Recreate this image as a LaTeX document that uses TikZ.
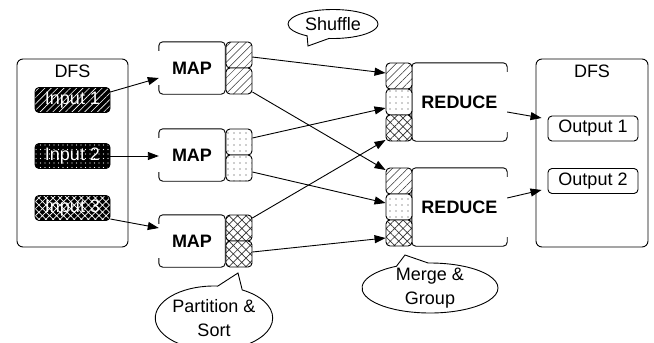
\documentclass[tikz,border=0pt]{standalone}
\usepackage{fontspec}
\setmainfont{Liberation Sans}
\usetikzlibrary{arrows.meta,patterns.meta,shapes.callouts}
\newcommand\mapoutline[1]{\draw[boxline] ([yshift=-9pt]#1.north west) -- (#1.north west) -- (#1.north east) -- (#1.south east) -- (#1.south west) -- ([yshift=9pt]#1.south west);}
\newcommand\redoutline[1]{\draw[boxline] ([yshift=-9pt]#1.north east) -- (#1.north east) -- (#1.north west) -- (#1.south west) -- (#1.south east) -- ([yshift=9pt]#1.south east);}
\begin{document}
\begin{tikzpicture}[x=1pt,y=-1pt,
  every node/.style={font=\fontsize{18}{24}\selectfont},
  lw/.style={line width=0.9pt},
  boxline/.style={lw, rounded corners=4pt},
  dfsbox/.style={draw, lw, rounded corners=6pt, minimum height=188pt, inner sep=0pt},
  inbox/.style={draw, lw, rounded corners=4pt, minimum width=75pt, minimum height=25pt, inner sep=0pt, text=white, preaction={fill=black}, pattern color=white},
  outbox/.style={draw, lw, rounded corners=4pt, minimum width=90pt, minimum height=25pt, inner sep=0pt, fill=white},
  mapbox/.style={minimum width=66pt, minimum height=52pt, inner sep=0pt, font=\fontsize{18}{24}\selectfont\bfseries},
  redbox/.style={minimum width=95pt, minimum height=78pt, inner sep=0pt, font=\fontsize{18}{24}\selectfont\bfseries},
  part/.style={draw, lw, rounded corners=4pt, minimum width=26pt, minimum height=26pt, inner sep=0pt, preaction={fill=white}, pattern color=black!80},
  partA/.style={part, pattern={Lines[angle=45,distance=5.5pt,line width=0.5pt]}},
  partB/.style={part, pattern={Dots[distance=6pt,radius=0.6pt]}},
  partC/.style={part, pattern={Hatch[angle=45,distance=6pt,line width=0.7pt]}},
  arr/.style={lw, -{Triangle[length=11pt,width=8pt]}},
  callout/.style={ellipse callout, draw, lw, fill=white, inner sep=0pt, align=center}
]
\fill[white] (0,0) rectangle (654,343);
\useasboundingbox (0,0) rectangle (654,343);

% DFS boxes
\node[dfsbox, minimum width=111pt] (dfsL) at (72.5,153) {};
\node (dfsLt) at (72.5,71) {DFS};
\node[dfsbox, minimum width=112pt] (dfsR) at (592,153) {};
\node (dfsRt) at (592,71) {DFS};

% inputs
\node[inbox, pattern={Lines[angle=45,distance=4.5pt,line width=0.6pt]}] (in1) at (72.5,100) {Input 1};
\node[inbox, pattern={Dots[distance=4.5pt,radius=0.7pt]}] (in2) at (72.5,156) {Input 2};
\node[inbox, pattern={Hatch[angle=45,distance=5pt,line width=0.7pt]}] (in3) at (72.5,208) {Input 3};

% outputs
\node[outbox] (o1) at (593,128.5) {Output 1};
\node[outbox] (o2) at (593,181) {Output 2};

% maps
\node[mapbox] (m1) at (192,68) {MAP};
\node[mapbox] (m2) at (192,155) {MAP};
\node[mapbox] (m3) at (192,241) {MAP};
\mapoutline{m1}
\mapoutline{m2}
\mapoutline{m3}
\node[partA] (m1a) at (239,55) {};
\node[partA] (m1b) at (239,81) {};
\node[partB] (m2a) at (239,142) {};
\node[partB] (m2b) at (239,168) {};
\node[partC] (m3a) at (239,228) {};
\node[partC] (m3b) at (239,254) {};

% reduces
\node[redbox] (r1) at (459.5,102) {REDUCE};
\node[redbox] (r2) at (459.5,207) {REDUCE};
\redoutline{r1}
\redoutline{r2}
\node[partA] (r1a) at (399,76) {};
\node[partB] (r1b) at (399,102) {};
\node[partC] (r1c) at (399,128) {};
\node[partA] (r2a) at (399,181) {};
\node[partB] (r2b) at (399,207) {};
\node[partC] (r2c) at (399,233) {};

% input arrows
\draw[arr] ([yshift=8pt]in1.east) -- ([yshift=-10pt]m1.west);
\draw[arr] (in2.east) -- (in2.east -| m2.west);
\draw[arr] ([yshift=-11pt]in3.east) -- ([yshift=13pt]m3.west);

% shuffle arrows
\draw[arr] ([yshift=-2pt]m1a.east) -- ([yshift=3pt]r1a.west);
\draw[arr] ([yshift=-11pt]m1b.east) -- ([yshift=11pt]r2a.west);
\draw[arr] ([yshift=4pt]m2a.east) -- ([yshift=-6pt]r1b.west);
\draw[arr] ([yshift=-4pt]m2b.east) -- ([yshift=4pt]r2b.west);
\draw[arr] ([yshift=10pt]m3a.east) -- ([yshift=-12pt]r1c.west);
\draw[arr] ([yshift=2pt]m3b.east) -- ([yshift=-5pt]r2c.west);

% output arrows
\draw[arr] ([yshift=-10pt]r1.east) -- ([xshift=-6pt,yshift=10.5pt]o1.west);
\draw[arr] ([yshift=9pt]r2.east) -- ([xshift=-6pt,yshift=-9pt]o2.west);

% callouts
\node[callout, minimum width=90pt, minimum height=29pt, callout pointer arc=30, callout absolute pointer={(308,46)}] (shuf) at (333,24) {Shuffle};
\node[callout, minimum width=112pt, minimum height=64pt, callout pointer arc=25, callout absolute pointer={(238,273)}] (ps) at (214,318) {Partition \&\\Sort};
\node[callout, minimum width=136pt, minimum height=50pt, inner ysep=-5pt, callout pointer arc=28, callout absolute pointer={(405,255)}] (mg) at (430,288) {Merge \&\\Group};
\end{tikzpicture}
\end{document}
